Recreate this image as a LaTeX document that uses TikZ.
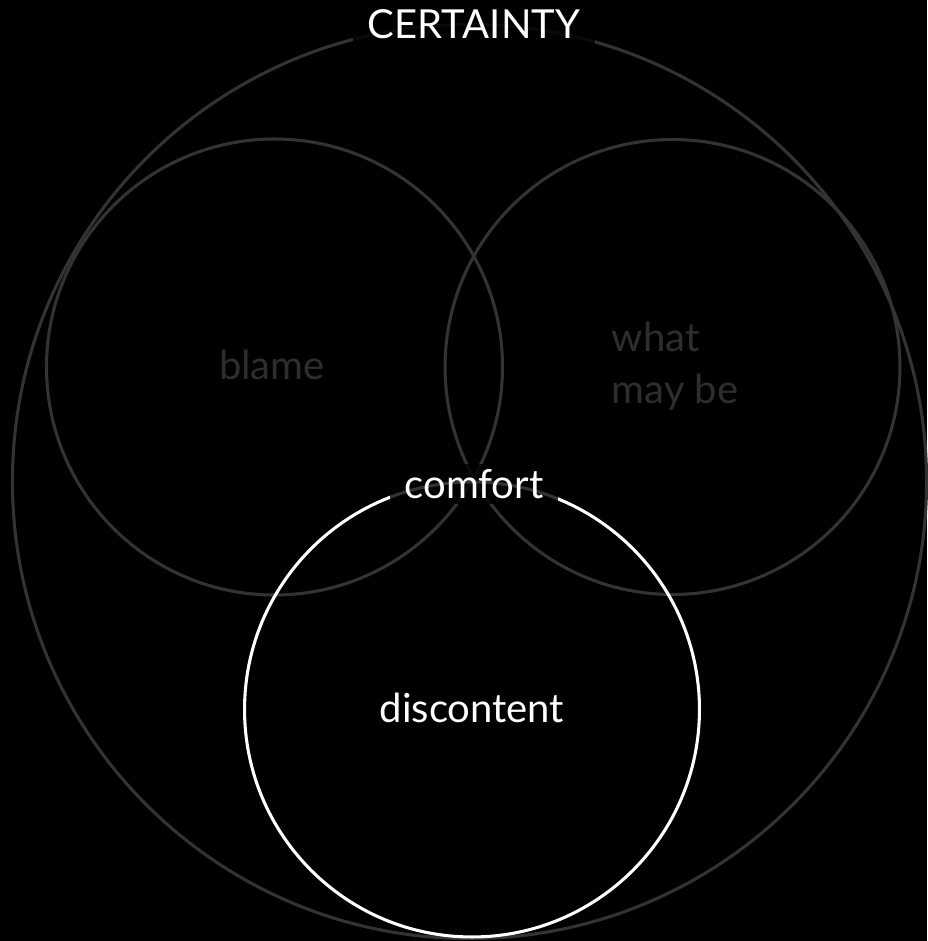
\documentclass[tikz,border=0pt]{standalone}
\usepackage{fontspec}
\setmainfont{Lato}
\usetikzlibrary{positioning}
\definecolor{ring}{HTML}{333333}
\definecolor{dimtext}{HTML}{2E2E2E}
\definecolor{bright}{HTML}{FFFFFF}

\begin{document}
\begin{tikzpicture}[x=0.75pt, y=-0.75pt,
    every node/.style={font=\fontsize{30}{39}\selectfont},
    graycirc/.style={draw=ring, line width=2.3pt},
    whitecirc/.style={draw=bright, line width=2.3pt},
    dim/.style={text=dimtext},
    lit/.style={text=bright},
    gap/.style={lit, fill=black, fill opacity=0.8, text opacity=1,
                inner xsep=11pt, inner ysep=4pt},
]
\fill[black] (0,0) rectangle (927,941);
\useasboundingbox (0,0) rectangle (927,941);

% ================================================== the outer ring
\draw[graycirc] (469.5,481.5) circle[radius=342.8pt];

% ================================================== the two upper rings
\draw[graycirc] (274.5,367) circle[radius=171pt];
\draw[graycirc] (672.5,367) circle[radius=170.6pt];

% ================================================== the lower ring
\draw[whitecirc] (472,709.5) circle[radius=170.6pt];

% ================================================== labels
\node[gap] (certainty) at (474,24) {CERTAINTY};
\node[dim] (blame) at (272,365) {blame};
\node[dim, align=left, anchor=west] (maybe) at (607,366) {what\\may be};
\node[gap] (comfort) at (474,484) {comfort};
\node[lit] (discontent) at (472,708) {discontent};

\end{tikzpicture}
\end{document}
